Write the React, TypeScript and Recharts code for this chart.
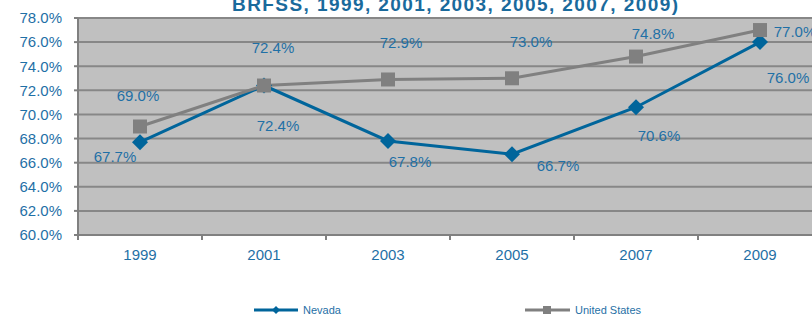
import { LineChart, Line, XAxis, YAxis, CartesianGrid, LabelList } from 'recharts'

const years = ['1999', '2001', '2003', '2005', '2007', '2009']
const nevada = [67.7, 72.4, 67.8, 66.7, 70.6, 76.0]
const unitedStates = [69.0, 72.4, 72.9, 73.0, 74.8, 77.0]
const yTicks = [60, 62, 64, 66, 68, 70, 72, 74, 76, 78]

// label offsets from each point (text centre)
const nevadaLabelOffsets = [[-25, 14], [14, 40], [22, 21], [46, 11], [23, 28], [28, 35]]
const usLabelOffsets = [[-2, -31], [9, -38], [13, -37], [19, -37], [17, -23], [35, 1]]

const data = years.map((year, i) => ({ year, nevada: nevada[i], us: unitedStates[i] }))

const CHART_W = 830
const CHART_H = 316
const MARGIN = { top: 18, right: 8, left: 0, bottom: 41 }
const Y_AXIS_W = 78
const HALF_BAND = (CHART_W - MARGIN.right - MARGIN.left - Y_AXIS_W) / years.length / 2

const FONT = '"Liberation Sans", Arial, sans-serif'
const TEXT_BLUE = '#1f70a6'
const NEVADA_BLUE = '#00659b'
const US_GRAY = '#808080'
const GRID_GRAY = '#878787'

const fmt = (v: number) => v.toFixed(1) + '%'

function XTick({ x, y, payload, index }: any) {
  return (
    <g>
      <text x={x} y={y + 14} textAnchor="middle" dominantBaseline="central" fill={TEXT_BLUE} fontSize={15} fontFamily={FONT}>
        {payload.value}
      </text>
      {index === 0 && <line x1={x - HALF_BAND} x2={x - HALF_BAND} y1={y - 5} y2={y} stroke={US_GRAY} strokeWidth={2} />}
      <line x1={x + HALF_BAND} x2={x + HALF_BAND} y1={y - 5} y2={y} stroke={US_GRAY} strokeWidth={2} />
    </g>
  )
}

function Diamond({ cx, cy }: any) {
  if (cx == null || cy == null) return null
  const r = 8
  return <path d={`M${cx},${cy - r}L${cx + r},${cy}L${cx},${cy + r}L${cx - r},${cy}Z`} fill={NEVADA_BLUE} />
}

function Square({ cx, cy }: any) {
  if (cx == null || cy == null) return null
  const s = 14
  return <rect x={cx - s / 2} y={cy - s / 2} width={s} height={s} fill={US_GRAY} />
}

const makeLabel = (offsets: number[][]) => (props: any) => {
  const { x, y, index, value } = props
  const [dx, dy] = offsets[index]
  return (
    <text x={x + dx} y={y + dy} textAnchor="middle" dominantBaseline="central" fill={TEXT_BLUE} fontSize={15} fontFamily={FONT}>
      {fmt(value)}
    </text>
  )
}

export default function App() {
  return (
    <div style={{ position: 'fixed', left: 0, top: 0, width: 812, height: 316, overflow: 'hidden', background: '#fff' }}>
      <LineChart width={CHART_W} height={CHART_H} data={data} margin={MARGIN}>
        <CartesianGrid vertical={false} fill="#c0c0c0" stroke={GRID_GRAY} strokeWidth={2} fillOpacity={1} />
        <XAxis
          dataKey="year"
          height={40}
          padding={{ left: HALF_BAND, right: HALF_BAND }}
          axisLine={{ stroke: US_GRAY, strokeWidth: 2 }}
          tickLine={false}
          tickSize={5}
          tickMargin={0}
          tick={<XTick />}
        />
        <YAxis
          width={Y_AXIS_W}
          domain={[60, 78]}
          ticks={yTicks}
          tickFormatter={fmt}
          axisLine={{ stroke: US_GRAY, strokeWidth: 2 }}
          tickLine={{ stroke: US_GRAY, strokeWidth: 2 }}
          tickSize={4}
          tickMargin={12}
          tick={{ fill: TEXT_BLUE, fontSize: 15, fontFamily: FONT }}
        />
        <Line
          dataKey="nevada"
          stroke={NEVADA_BLUE}
          strokeWidth={3}
          dot={<Diamond />}
          activeDot={false}
          isAnimationActive={false}
        >
          <LabelList dataKey="nevada" content={makeLabel(nevadaLabelOffsets)} />
        </Line>
        <Line
          dataKey="us"
          stroke={US_GRAY}
          strokeWidth={3}
          dot={<Square />}
          activeDot={false}
          isAnimationActive={false}
        >
          <LabelList dataKey="us" content={makeLabel(usLabelOffsets)} />
        </Line>
      </LineChart>
      <svg width={812} height={316} style={{ position: 'absolute', left: 0, top: 0, pointerEvents: 'none' }}>
        <text x={232} y={11} fill="#1a6a9c" fontSize={19} fontWeight="bold" fontFamily={FONT} textLength={446} lengthAdjust="spacing">
          BRFSS, 1999, 2001, 2003, 2005, 2007, 2009)
        </text>
        <line x1={254} x2={298} y1={310} y2={310} stroke={NEVADA_BLUE} strokeWidth={3} />
        <path d="M276,306L280,310L276,314L272,310Z" fill={NEVADA_BLUE} />
        <text x={303} y={310} dominantBaseline="central" fill={TEXT_BLUE} fontSize={11} fontFamily={FONT}>Nevada</text>
        <line x1={525} x2={570} y1={310} y2={310} stroke={US_GRAY} strokeWidth={3} />
        <rect x={543} y={306} width={8} height={8} fill={US_GRAY} />
        <text x={575} y={310} dominantBaseline="central" fill={TEXT_BLUE} fontSize={11} fontFamily={FONT}>United States</text>
      </svg>
    </div>
  )
}
